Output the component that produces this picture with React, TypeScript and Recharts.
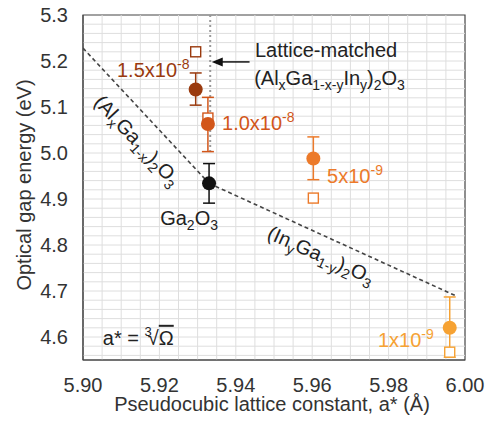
import React from "react";
import {
  ComposedChart, Scatter, XAxis, YAxis, ErrorBar, ReferenceLine, ReferenceDot, ReferenceArea,
} from "recharts";

// axis ticks and grid
const xTicks = [5.9, 5.92, 5.94, 5.96, 5.98, 6.0];
const yTicks = [4.6, 4.7, 4.8, 4.9, 5.0, 5.1, 5.2, 5.3];
const xMinor = [5.905, 5.91, 5.915, 5.92, 5.925, 5.93, 5.935, 5.94, 5.945, 5.95, 5.955, 5.96, 5.965, 5.97, 5.975, 5.98, 5.985, 5.99, 5.995];
const yMinor = [4.56, 4.58, 4.6, 4.62, 4.64, 4.66, 4.68, 4.7, 4.72, 4.74, 4.76, 4.78, 4.8, 4.82, 4.84, 4.86, 4.88, 4.9, 4.92, 4.94, 4.96, 4.98, 5.0, 5.02, 5.04, 5.06, 5.08, 5.1, 5.12, 5.14, 5.16, 5.18, 5.2, 5.22, 5.24, 5.26, 5.28];

// samples: Ga2O3, 1.5e-8, 1.0e-8, 5e-9, 1e-9
const sampleX = [5.933, 5.9295, 5.9327, 5.9603, 5.996];
const gapY = [4.934, 5.138, 5.063, 4.988, 4.62];
const errLow = [4.891, 5.104, 5.003, 4.942, 4.556];
const errHigh = [4.977, 5.174, 5.121, 5.035, 4.687];
const squareY = [null, 5.22, 5.076, 4.902, 4.567];
const colors = ["#111111", "#9a3a0e", "#d2561a", "#ec7a2a", "#f6a233"];

// dashed alloy trend lines
const alCurveX = [5.9, 5.933];
const alCurveY = [5.228, 4.934];
const inCurveX = [5.933, 5.998];
const inCurveY = [4.934, 4.688];

const FONT = "'Liberation Sans', Arial, sans-serif";

const pts = (xs: number[], ys: number[]) => xs.map((x, i) => ({ x, y: ys[i] }));

function Txt({ p, fill = "#222", rotate = 0, children }: any) {
  const { cx, cy } = p;
  return (
    <text x={cx} y={cy} fill={fill} fontSize={20} fontFamily={FONT}
      transform={rotate ? `rotate(${rotate} ${cx} ${cy})` : undefined}>
      {children}
    </text>
  );
}

const sub = (s: string) => [
  <tspan key="a" dy={5} fontSize={14}>{s}</tspan>,
  <tspan key="b" dy={-5}>{"\u200b"}</tspan>,
];
const sup = (s: string) => [
  <tspan key="a" dy={-8} fontSize={14}>{s}</tspan>,
  <tspan key="b" dy={8}>{"\u200b"}</tspan>,
];

export default function App() {
  return (
    <div style={{ position: "absolute", left: 0, top: 0, width: 491, height: 425, background: "#fff" }}>
      <ComposedChart width={491} height={425} margin={{ top: 15, right: 26, bottom: 0, left: 0 }}>
        <XAxis type="number" dataKey="x" domain={[5.9, 6.0]} ticks={xTicks} height={65}
          tickFormatter={(v) => v.toFixed(2)} tickLine={false} tickMargin={12}
          axisLine={{ stroke: "#444" }} tick={{ fontSize: 20, fill: "#333", fontFamily: FONT }} allowDataOverflow />
        <YAxis type="number" dataKey="y" domain={[4.55, 5.3]} ticks={yTicks} width={83}
          tickFormatter={(v) => v.toFixed(1)} tickLine={false} tickMargin={9}
          axisLine={{ stroke: "#444" }} tick={{ fontSize: 20, fill: "#333", fontFamily: FONT }} allowDataOverflow />

        {xMinor.map((v) => <ReferenceLine key={"gx" + v} x={v} stroke="#dedede" strokeWidth={1} />)}
        {yMinor.map((v) => <ReferenceLine key={"gy" + v} y={v} stroke="#dedede" strokeWidth={1} />)}
        <ReferenceArea x1={5.9} x2={6.0} y1={4.55} y2={5.3} fill="none" stroke="#444" strokeWidth={1.2} />

        <Scatter data={pts(alCurveX, alCurveY)} line={{ stroke: "#444", strokeWidth: 1.6, strokeDasharray: "4 3" }}
          shape={() => <g />} isAnimationActive={false} />
        <Scatter data={pts(inCurveX, inCurveY)} line={{ stroke: "#444", strokeWidth: 1.6, strokeDasharray: "4 3" }}
          shape={() => <g />} isAnimationActive={false} />

        <ReferenceLine segment={[{ x: 5.9333, y: 5.3 }, { x: 5.9333, y: 4.998 }]} stroke="#999"
          strokeWidth={2} strokeDasharray="2 3" />
        <ReferenceLine segment={[{ x: 5.9436, y: 5.198 }, { x: 5.9355, y: 5.198 }]} stroke="#111" strokeWidth={1.5} />
        <ReferenceDot x={5.9337} y={5.198} r={0} ifOverflow="visible"
          shape={(p: any) => <polygon points={`${p.cx},${p.cy} ${p.cx + 11},${p.cy - 4.5} ${p.cx + 11},${p.cy + 4.5}`} fill="#111" />} />

        {squareY.map((sy, i) => sy === null ? null : (
          <Scatter key={"sq" + i} data={[{ x: sampleX[i], y: sy }]} isAnimationActive={false}
            shape={(p: any) => <rect x={p.cx - 5} y={p.cy - 5} width={10} height={10} fill="#fff" stroke={colors[i]} strokeWidth={1.4} />} />
        ))}

        {sampleX.map((x, i) => (
          <Scatter key={"pt" + i} data={[{ x, y: gapY[i], err: [gapY[i] - errLow[i], errHigh[i] - gapY[i]] }]}
            isAnimationActive={false}
            shape={(p: any) => <circle cx={p.cx} cy={p.cy} r={7} fill={colors[i]} />}>
            <ErrorBar dataKey="err" direction="y" width={6} stroke={colors[i]} strokeWidth={1.5} />
          </Scatter>
        ))}

        <ReferenceDot x={5.945} y={5.2087} r={0} ifOverflow="visible"
          shape={(p: any) => <Txt p={p}>Lattice-matched</Txt>} />
        <ReferenceDot x={5.9448} y={5.148} r={0} ifOverflow="visible"
          shape={(p: any) => <Txt p={p}>(Al{sub("x")}Ga{sub("1-x-y")}In{sub("y")}){sub("2")}O{sub("3")}</Txt>} />
        <ReferenceDot x={5.9089} y={5.165} r={0} ifOverflow="visible"
          shape={(p: any) => <Txt p={p} fill={colors[1]}>1.5x10{sup("-8")}</Txt>} />
        <ReferenceDot x={5.9364} y={5.05} r={0} ifOverflow="visible"
          shape={(p: any) => <Txt p={p} fill={colors[2]}>1.0x10{sup("-8")}</Txt>} />
        <ReferenceDot x={5.9639} y={4.935} r={0} ifOverflow="visible"
          shape={(p: any) => <Txt p={p} fill={colors[3]}>5x10{sup("-9")}</Txt>} />
        <ReferenceDot x={5.9772} y={4.578} r={0} ifOverflow="visible"
          shape={(p: any) => <Txt p={p} fill={colors[4]}>1x10{sup("-9")}</Txt>} />
        <ReferenceDot x={5.9202} y={4.843} r={0} ifOverflow="visible"
          shape={(p: any) => <Txt p={p}>Ga{sub("2")}O{sub("3")}</Txt>} />
        <ReferenceDot x={5.9052} y={4.583} r={0} ifOverflow="visible"
          shape={(p: any) => (
            <Txt p={p}>a* = <tspan dy={-9} fontSize={13}>3</tspan><tspan dx={-4} dy={9}>√</tspan><tspan textDecoration="overline">Ω</tspan></Txt>
          )} />
        <ReferenceDot x={5.9026} y={5.1087} r={0} ifOverflow="visible"
          shape={(p: any) => <Txt p={p} rotate={47}>(Al{sub("x")}Ga{sub("1-x")}){sub("2")}O{sub("3")}</Txt>} />
        <ReferenceDot x={5.9479} y={4.815} r={0} ifOverflow="visible"
          shape={(p: any) => <Txt p={p} rotate={24}>(In{sub("y")}Ga{sub("1-y")}){sub("2")}O{sub("3")}</Txt>} />
      </ComposedChart>
      <svg width={491} height={425} style={{ position: "absolute", left: 0, top: 0, pointerEvents: "none" }}>
        <text x={272} y={411} textAnchor="middle" fontSize={20} fill="#333" fontFamily={FONT}>
          Pseudocubic lattice constant, a* (Å)
        </text>
        <text x={31} y={185} textAnchor="middle" fontSize={20} fill="#333" fontFamily={FONT}
          transform="rotate(-90 31 185)">
          Optical gap energy (eV)
        </text>
      </svg>
    </div>
  );
}
